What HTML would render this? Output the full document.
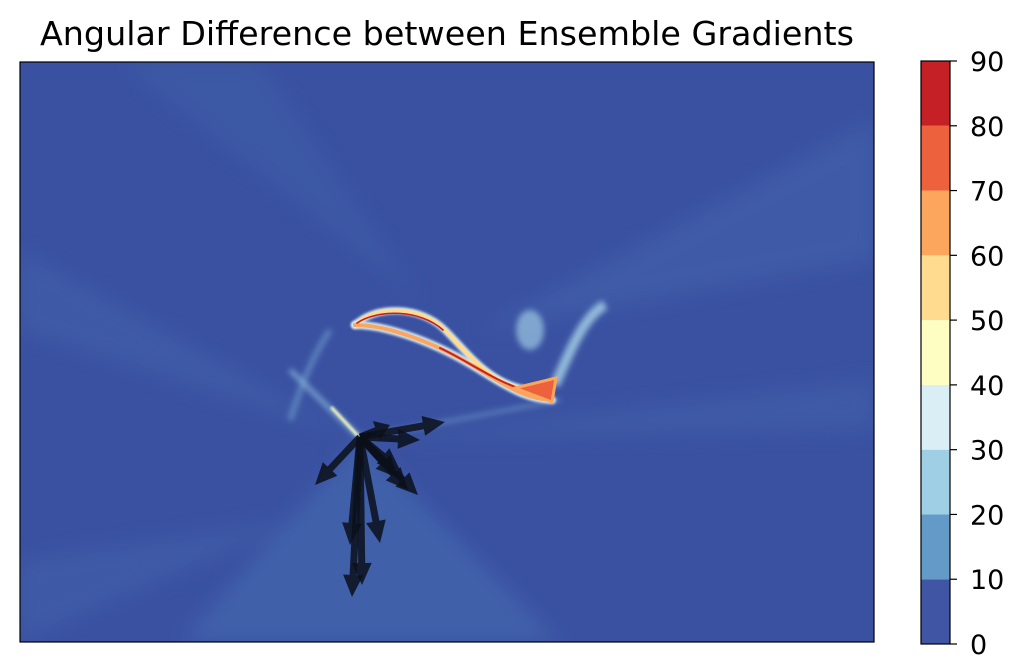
<!DOCTYPE html>
<html><head><meta charset="utf-8"><style>
body{margin:0;background:#fff;}
svg{display:block;font-family:"DejaVu Sans","Liberation Sans",sans-serif;}
</style></head><body>
<svg id="root" width="1024" height="672" viewBox="0 0 1024 672" xmlns="http://www.w3.org/2000/svg">
<defs>
<clipPath id="pc"><rect x="20" y="62" width="854" height="580"/></clipPath>
<filter id="b8"><feGaussianBlur stdDeviation="10"/></filter>
<filter id="b3"><feGaussianBlur stdDeviation="3"/></filter>
<filter id="b1"><feGaussianBlur stdDeviation="1.2"/></filter>
</defs>
<text x="447" y="45" text-anchor="middle" font-size="33" textLength="814" lengthAdjust="spacingAndGlyphs" fill="#000">Angular Difference between Ensemble Gradients</text>
<g clip-path="url(#pc)">
<rect x="20" y="62" width="854" height="580" fill="#3a51a1"/>
<g filter="url(#b8)" opacity="0.45">
<path d="M360,440 L180,642 L560,642 Z" fill="#4a73b6"/>
<path d="M360,440 L20,250 L20,330 Z" fill="#4466ad"/>
<path d="M480,330 L874,120 L874,260 Z" fill="#4669b0"/>
<path d="M420,300 L120,62 L260,62 Z" fill="#4063aa"/>
<path d="M360,440 L874,380 L874,430 Z" fill="#4466ad"/>
<path d="M20,560 L300,520 L20,642 Z" fill="#4466ad"/>
</g>
<g filter="url(#b3)" fill="none">
<path d="M330,330 C310,360 300,390 290,420" stroke="#6f9fcf" stroke-width="6" opacity="0.6"/>
<path d="M555,385 C570,350 585,315 605,305" stroke="#a8d3e8" stroke-width="10" opacity="0.8"/>
<ellipse cx="530" cy="330" rx="14" ry="20" fill="#9cc9e2" opacity="0.7"/>
<path d="M290,370 L360,438" stroke="#8fbddd" stroke-width="5" opacity="0.7"/>
<path d="M360,438 L560,400" stroke="#7aaad5" stroke-width="4" opacity="0.5"/>
</g>
<g fill="none" stroke-linecap="round">
<path d="M332,408 L360,438" stroke="#fefec2" stroke-width="3" filter="url(#b1)"/>
<path d="M355,325 C375,305 420,305 445,330 S490,385 530,390" stroke="#d9eff5" stroke-width="7" filter="url(#b1)"/>
<path d="M355,325 C390,325 440,345 480,370 S530,398 552,400" stroke="#d9eff5" stroke-width="8" filter="url(#b1)"/>
<path d="M355,325 C375,305 420,305 445,330 S490,385 530,390" stroke="#fedb8e" stroke-width="4"/>
<path d="M355,325 C390,325 440,345 480,370 S530,398 552,400" stroke="#fca55d" stroke-width="4"/>
<path d="M357,323 C378,309 420,309 443,330" stroke="#c52026" stroke-width="1.6"/>
<path d="M440,348 C470,362 495,382 530,392" stroke="#c52026" stroke-width="2"/>
<path d="M515,388 L556,378 L552,402 Z" fill="#ee613d" stroke="#fca55d" stroke-width="3"/>
</g>
</g>
<g id="arrows"></g>
<rect x="20" y="62" width="854" height="580" fill="none" stroke="#000" stroke-width="1.2"/>
<g id="cbar"></g>
</svg>
<script>
const cbTicks=[0,10,20,30,40,50,60,70,80,90];
const cbColors=["#4055a4","#649ac7","#9fcfe4","#d9eff5","#fefec2","#fedb8e","#fca55d","#ee613d","#c52026"];
const arrowDX=[85,30,-45,-8,2,-10,20,58,48,40,60,38];
const arrowDY=[-15,-12,48,160,148,108,106,58,53,33,3,41];
const ox=360, oy=437;
const NS="http://www.w3.org/2000/svg";
const ag=document.getElementById('arrows');
for(let i=0;i<arrowDX.length;i++){
  const dx=arrowDX[i],dy=arrowDY[i],L=Math.hypot(dx,dy),ux=dx/L,uy=dy/L,px=-uy,py=ux;
  const hl=Math.min(22,L*0.45),sw=3.5,hw=10;
  const bx=ox+ux*(L-hl),by=oy+uy*(L-hl);
  const pts=[[ox+px*sw,oy+py*sw],[bx+px*sw,by+py*sw],[bx+px*hw,by+py*hw],[ox+dx,oy+dy],[bx-px*hw,by-py*hw],[bx-px*sw,by-py*sw],[ox-px*sw,oy-py*sw]];
  const p=document.createElementNS(NS,'polygon');
  p.setAttribute('points',pts.map(q=>q[0].toFixed(1)+','+q[1].toFixed(1)).join(' '));
  p.setAttribute('fill','#0b0f1a');p.setAttribute('fill-opacity','0.85');
  
  
  ag.appendChild(p);
}
const cg=document.getElementById('cbar');
const cx=921,cw=29,ct=61,cb=644;
const cy=v=>cb-(v-cbTicks[0])/(cbTicks[cbTicks.length-1]-cbTicks[0])*(cb-ct);
for(let i=0;i<cbColors.length;i++){
  const r=document.createElementNS(NS,'rect');
  r.setAttribute('x',cx);r.setAttribute('y',cy(cbTicks[i+1]));r.setAttribute('width',cw);
  r.setAttribute('height',cy(cbTicks[i])-cy(cbTicks[i+1]));r.setAttribute('fill',cbColors[i]);
  
  
  cg.appendChild(r);
}
const fr=document.createElementNS(NS,'rect');
fr.setAttribute('x',cx);fr.setAttribute('y',ct);fr.setAttribute('width',cw);fr.setAttribute('height',cb-ct);
fr.setAttribute('fill','none');fr.setAttribute('stroke','#000');fr.setAttribute('stroke-width','1.2');


cg.appendChild(fr);
cbTicks.forEach(t=>{
  const y=cy(t);
  const l=document.createElementNS(NS,'line');
  l.setAttribute('x1',cx+cw);l.setAttribute('x2',cx+cw+7);l.setAttribute('y1',y);l.setAttribute('y2',y);
  l.setAttribute('stroke','#000');l.setAttribute('stroke-width','1.2');
  
  
  cg.appendChild(l);
  const tx=document.createElementNS(NS,'text');
  tx.setAttribute('x',970);tx.setAttribute('y',y+10);tx.setAttribute('font-size','27');
  tx.textContent=t;
  
  
  cg.appendChild(tx);
});
</script>
</body></html>
